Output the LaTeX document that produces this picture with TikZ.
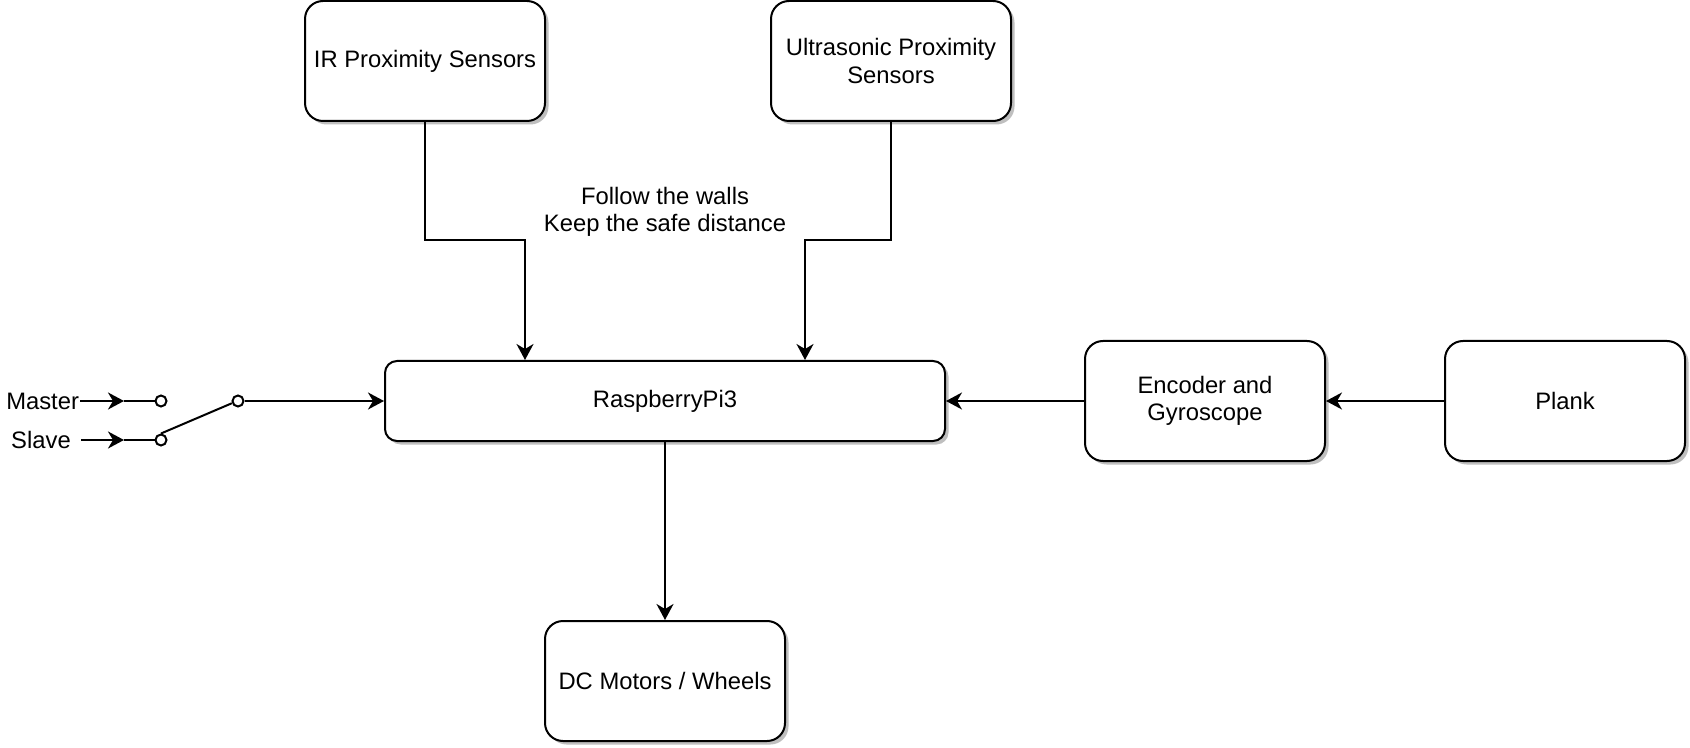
\documentclass[tikz,border=0pt]{standalone}
\usepackage{fontspec}
\setmainfont{Liberation Sans}
\usetikzlibrary{positioning,arrows.meta,shadows}

\begin{document}
\begin{tikzpicture}[x=0.5pt, y=-0.5pt, line width=1pt,
    font=\fontsize{11.9}{13.6}\selectfont,
    block/.style={draw, fill=white, rounded corners=9pt, align=center,
        minimum width=120pt, minimum height=60pt,
        general shadow={fill=black!25, shadow xshift=1.75pt, shadow yshift=-1.75pt}},
    wide/.style={block, rounded corners=6pt, minimum width=280pt, minimum height=40pt},
    term/.style={circle, draw, fill=white, inner sep=0pt, minimum size=5.5pt},
    lbl/.style={inner sep=0pt, align=center},
    arr/.style={-{Stealth[length=8pt, width=8.5pt, inset=2.5pt]}}]
            \useasboundingbox (0,0) rectangle (1690,748);
            % boxes
            \node[block] (ir) at (425,61) {IR Proximity Sensors};
            \node[block] (us) at (891,61) {Ultrasonic Proximity\\Sensors};
            \node[wide] (rasp) at (665,401) {RaspberryPi3};
            \node[block] (dc) at (665,681) {DC Motors / Wheels};
            \node[block] (enc) at (1205,401) {Encoder and\\Gyroscope};
            \node[block] (plank) at (1565,401) {Plank};
            \node[lbl] (note) at (665,212) {Follow the walls\\Keep the safe distance};
            % sensors into the Pi
            \coordinate (irk) at (525,240);
            \coordinate (usk) at (805,240);
            \draw[arr] (ir.south) |- (irk) -- (irk |- rasp.north);
            \draw[arr] (us.south) |- (usk) -- (usk |- rasp.north);
            \draw[arr] (rasp) -- (dc);
            \draw[arr] (enc) -- (rasp);
            \draw[arr] (plank) -- (enc);
            % master / slave switch
            \node[lbl, anchor=east] (master) at (80,401) {Master};
            \node[lbl] (slave) at (41,440) {Slave};
            \coordinate (sfrom) at (81,440);
            \coordinate (mtip) at (124,401);
            \coordinate (stip) at (124,440);
            \node[term] (m) at (161,401) {};
            \node[term] (s) at (161,440) {};
            \node[term] (c) at (238,401) {};
            \draw[arr] (master) -- (mtip);
            \draw (mtip) -- (m);
            \draw[arr] (sfrom) -- (stip);
            \draw (stip) -- (s);
            \draw (s.north) -- (c.200);
            \draw[arr] (c) -- (rasp);
\end{tikzpicture}
\end{document}
